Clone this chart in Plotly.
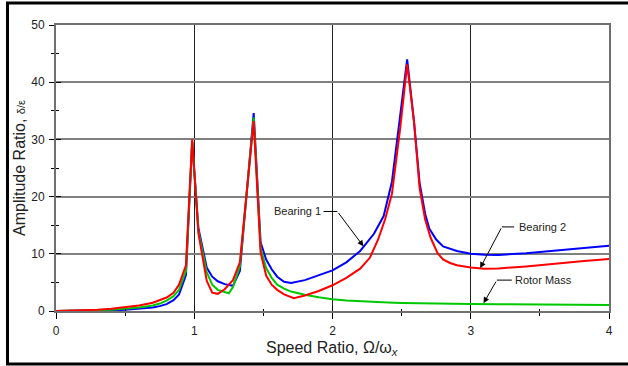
import plotly.graph_objects as go

# ---------------- data ----------------
bearing1_x = [0, 0.1, 0.2, 0.3, 0.4, 0.5, 0.6, 0.7, 0.75, 0.8, 0.85, 0.89, 0.94, 0.985, 1.03, 1.09,
              1.13, 1.17, 1.22, 1.28, 1.33, 1.43, 1.48, 1.52, 1.56, 1.6, 1.65, 1.7, 1.8, 1.9, 2.0,
              2.1, 2.2, 2.3, 2.37, 2.43, 2.49, 2.54, 2.59, 2.63, 2.67, 2.7, 2.75, 2.8, 2.9, 3.0,
              3.1, 3.2, 3.4, 3.6, 3.8, 4.0]
bearing1_y = [0, 0.0, 0.03, 0.08, 0.13, 0.2, 0.35, 0.6, 0.85, 1.2, 1.9, 2.9, 6.3, 29.5, 14.5, 7.6,
              6.0, 5.2, 4.7, 4.4, 7.0, 34.6, 12.0, 9.0, 7.3, 6.0, 5.1, 4.9, 5.4, 6.2, 7.1,
              8.5, 10.5, 13.5, 16.6, 22.6, 34.0, 44.0, 33.0, 22.4, 17.0, 14.4, 12.5, 11.3, 10.5, 10.0,
              9.85, 9.8, 10.1, 10.5, 10.9, 11.4]

rotor_x = [0, 0.1, 0.2, 0.3, 0.4, 0.5, 0.6, 0.7, 0.75, 0.8, 0.85, 0.89, 0.94, 0.985, 1.03, 1.09,
           1.13, 1.17, 1.22, 1.25, 1.28, 1.33, 1.43, 1.48, 1.52, 1.56, 1.6, 1.65, 1.7, 1.75, 1.8,
           1.9, 2.0, 2.1, 2.2, 2.3, 2.4, 2.5, 2.6, 2.8, 3.0, 3.2, 3.4, 3.6, 3.8, 4.0]
rotor_y = [0, 0.02, 0.07, 0.14, 0.24, 0.38, 0.6, 0.95, 1.3, 1.8, 2.6, 3.7, 7.0, 29.7, 14.0, 6.8,
           4.6, 3.7, 3.3, 3.1, 4.2, 7.8, 33.8, 11.0, 7.5, 5.8, 4.6, 3.9, 3.4, 3.1, 2.85,
           2.4, 2.05, 1.85, 1.7, 1.6, 1.5, 1.42, 1.36, 1.28, 1.23, 1.18, 1.14, 1.1, 1.07, 1.05]

bearing2_x = [0, 0.1, 0.2, 0.3, 0.4, 0.5, 0.6, 0.7, 0.75, 0.8, 0.85, 0.89, 0.94, 0.985, 1.03, 1.09,
              1.13, 1.17, 1.22, 1.28, 1.33, 1.43, 1.48, 1.52, 1.56, 1.6, 1.65, 1.72, 1.8, 1.9, 2.0,
              2.1, 2.2, 2.27, 2.33, 2.38, 2.43, 2.49, 2.54, 2.59, 2.63, 2.67, 2.71, 2.76, 2.8, 2.85,
              2.9, 3.0, 3.1, 3.2, 3.4, 3.6, 3.8, 4.0]
bearing2_y = [0, 0.05, 0.12, 0.22, 0.38, 0.6, 0.95, 1.45, 1.85, 2.35, 3.2, 4.6, 8.0, 30.0, 13.6, 5.3,
              3.2, 3.0, 3.8, 5.4, 8.5, 33.2, 10.2, 6.2, 4.6, 3.7, 2.9, 2.25, 2.7, 3.5, 4.5,
              5.8, 7.4, 9.3, 12.5, 16.0, 20.5, 32.0, 43.1, 33.0, 21.5, 16.0, 12.8, 10.1, 9.0, 8.4,
              8.0, 7.6, 7.4, 7.45, 7.8, 8.3, 8.7, 9.1]

x_ticks = [0, 1, 2, 3, 4]
y_ticks = [0, 10, 20, 30, 40, 50]

# ---------------- figure ----------------
W, H = 628, 366
ML, MR, MT, MB = 56, 19, 25, 55
PW, PH = W - ML - MR, H - MT - MB

def px(xp):
    return (xp - ML) / PW

def py(yp):
    return (H - MB - yp) / PH

fig = go.Figure()
fig.add_trace(go.Scatter(x=bearing1_x, y=bearing1_y, mode="lines", name="Bearing 1",
                         line=dict(color="#0000FF", width=2)))
fig.add_trace(go.Scatter(x=rotor_x, y=rotor_y, mode="lines", name="Rotor Mass",
                         line=dict(color="#00C800", width=2)))
fig.add_trace(go.Scatter(x=bearing2_x, y=bearing2_y, mode="lines", name="Bearing 2",
                         line=dict(color="#FF0000", width=2)))

font = "Liberation Sans, Arial, sans-serif"

fig.update_layout(
    width=W, height=H,
    margin=dict(l=ML, r=MR, t=MT, b=MB, pad=0, autoexpand=False),
    paper_bgcolor="white", plot_bgcolor="white",
    showlegend=False,
    font=dict(family=font, color="#222222", size=12),
    xaxis=dict(
        range=[0, 4], tickvals=x_ticks, ticktext=[str(v) for v in x_ticks],
        showgrid=True, gridcolor="#202020", gridwidth=1,
        showline=True, linecolor="#707070", linewidth=2, mirror=True,
        ticks="outside", ticklen=6, tickcolor="black", tickwidth=1,
        minor=dict(dtick=0.5, ticks="outside", ticklen=3, tickcolor="black", showgrid=False),
        zeroline=False, ticklabelstandoff=2, automargin=False,
        tickfont=dict(size=12, color="#222222"),
    ),
    yaxis=dict(
        range=[0, 50], tickvals=y_ticks,
        showgrid=True, gridcolor="#808080", gridwidth=2,
        showline=True, linecolor="#707070", linewidth=2, mirror=True,
        ticks="outside", ticklen=5, tickcolor="black", tickwidth=1,
        minor=dict(dtick=5, ticks="outside", ticklen=3, tickcolor="black", showgrid=False),
        zeroline=False, ticklabelstandoff=2, automargin=False,
        tickfont=dict(size=12, color="#222222"),
    ),
    xaxis2=dict(overlaying="x", matches="x", anchor="y", side="bottom", range=[0, 4],
                tickvals=x_ticks, showticklabels=False, showgrid=False, showline=False,
                ticks="inside", ticklen=5, tickcolor="black", automargin=False,
                minor=dict(dtick=0.5, ticks="inside", ticklen=2, tickcolor="black", showgrid=False),
                zeroline=False),
    yaxis2=dict(overlaying="y", matches="y", anchor="x", side="left", range=[0, 50],
                tickvals=y_ticks, showticklabels=False, showgrid=False, showline=False,
                ticks="inside", ticklen=5, tickcolor="black", automargin=False,
                minor=dict(dtick=5, ticks="inside", ticklen=3, tickcolor="black", showgrid=False),
                zeroline=False),
)

# invisible trace to activate overlay axes
fig.add_trace(go.Scatter(x=[0], y=[0], xaxis="x2", yaxis="y2", mode="markers",
                         marker=dict(opacity=0), hoverinfo="skip", showlegend=False))

# axis titles
fig.add_annotation(xref="paper", yref="paper", x=px(332), y=py(348),
                   text="Speed Ratio, Ω/ω<sub><i>x</i></sub>", showarrow=False,
                   font=dict(size=16, color="#222222", family=font),
                   xanchor="center", yanchor="middle")
fig.add_annotation(xref="paper", yref="paper", x=px(19), y=py(168),
                   text="Amplitude Ratio, <span style='font-size:11px'>δ/ε</span>",
                   showarrow=False, textangle=-90,
                   font=dict(size=16, color="#222222", family=font),
                   xanchor="center", yanchor="middle")

# outer frame
fig.add_shape(type="rect", xref="paper", yref="paper",
              x0=px(7.5), x1=px(640), y0=py(364), y1=py(3),
              line=dict(color="black", width=3), fillcolor="rgba(0,0,0,0)", layer="above")

# callouts: (text, text x, text y, seg x0, seg x1, arrow tip x, tip y)
callouts = [
    ("Bearing 1", 1.75, 17.4, 1.935, 2.035, 2.224, 11.3),
    ("Bearing 2", 3.52, 14.7, 3.225, 3.314, 3.068, 7.5),
    ("Rotor Mass", 3.523, 5.4, 3.189, 3.297, 3.092, 1.35),
]
for txt, tx, ty, s0, s1, hx, hy in callouts:
    fig.add_annotation(x=tx, y=ty, text=txt, showarrow=False,
                       font=dict(size=11, color="#222222", family=font))
    fig.add_shape(type="line", x0=s0, x1=s1, y0=ty, y1=ty, xref="x", yref="y",
                  line=dict(color="black", width=1))
    end_x = s1 if s1 < hx else s0
    fig.add_annotation(x=hx, y=hy, ax=end_x, ay=ty, axref="x", ayref="y", text="",
                       showarrow=True, arrowhead=2, arrowsize=1.2, arrowwidth=1,
                       arrowcolor="black", standoff=0)

fig.write_html("out.html")
